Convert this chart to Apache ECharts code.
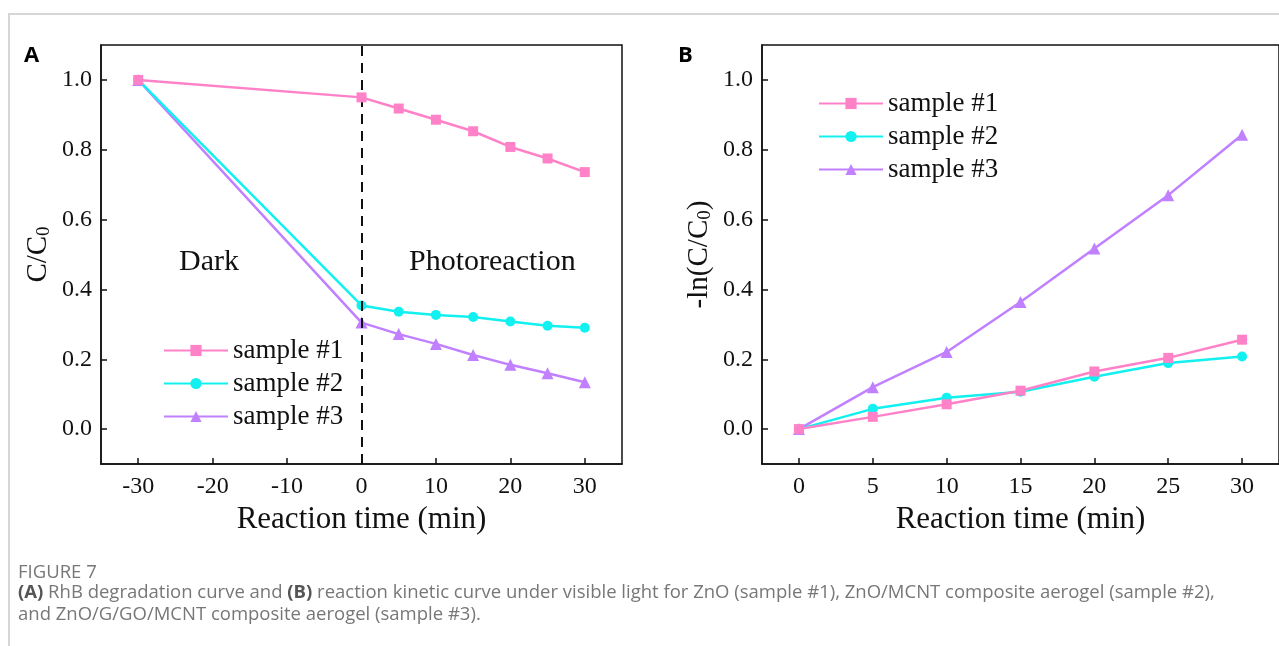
<!DOCTYPE html>
<html>
<head>
<meta charset="utf-8">
<script src="https://cdn.jsdelivr.net/npm/echarts@6/dist/echarts.min.js"></script>
<style>
  html, body { margin: 0; padding: 0; background: #fff; }
  .frame { position: absolute; left: 8px; top: 13px; width: 1271px; height: 633px;
    border-left: 2px solid #d6d6d6; border-top: 2px solid #d6d6d6; box-sizing: border-box; }
  #chart { position: absolute; left: 0; top: 0; width: 1279px; height: 646px; }
  .cap { position: absolute; left: 18px; font-family: "Open Sans", "Noto Sans", sans-serif;
    font-size: 18.5px; color: #777; }
  .cap b { color: #555; }
</style>
</head>
<body>
<div class="frame"></div>
<div id="chart"></div>
<div class="cap" style="top:558px;">FIGURE 7</div>
<div class="cap" style="top:580px; line-height:22px; width:1250px;"><b>(A)</b> RhB degradation curve and <b>(B)</b> reaction kinetic curve under visible light for ZnO (sample #1), ZnO/MCNT composite aerogel (sample #2),<br>and ZnO/G/GO/MCNT composite aerogel (sample #3).</div>
<script>
// panel A: C/C0 vs reaction time (dark from -30 to 0, light after)
const timeA = [-30, 0, 5, 10, 15, 20, 25, 30]
const s1A = [1.0, 0.950, 0.918, 0.886, 0.853, 0.808, 0.775, 0.736]
const s2A = [1.0, 0.354, 0.336, 0.327, 0.321, 0.308, 0.296, 0.290]
const s3A = [1.0, 0.305, 0.272, 0.244, 0.212, 0.184, 0.160, 0.134]

// panel B: -ln(C/C0) vs reaction time
const timeB = [0, 5, 10, 15, 20, 25, 30]
const s1B = [0, 0.035, 0.071, 0.110, 0.165, 0.204, 0.256]
const s2B = [0, 0.058, 0.090, 0.107, 0.150, 0.189, 0.208]
const s3B = [0, 0.120, 0.221, 0.364, 0.517, 0.670, 0.843]

// tick positions
const ticksY = [0, 0.2, 0.4, 0.6, 0.8, 1.0]
const ticksXA = [-30, -20, -10, 0, 10, 20, 30]
const ticksXB = [0, 5, 10, 15, 20, 25, 30]

const names = ['sample #1', 'sample #2', 'sample #3']
const colors = ['#ff82c8', '#12f0f0', '#c080ff']
const symbols = ['rect', 'circle', 'triangle']

const serif = 'Liberation Serif'
const zip = (xs, ys) => xs.map((x, i) => [x, ys[i]])
const tickRich = { t: { fontFamily: serif, fontSize: 24, color: '#111' } }

function lineSeries(idx, x, y, axis) {
  return {
    name: names[idx],
    type: 'line',
    xAxisIndex: axis,
    yAxisIndex: axis,
    data: zip(x, y),
    symbol: symbols[idx],
    symbolSize: idx === 2 ? 12 : 10,
    lineStyle: { color: colors[idx], width: 2.5 },
    itemStyle: { color: colors[idx] },
    z: 5 - idx,
  }
}

const axisLineStyle = { color: '#111', width: 1.5 }

function yAxis(gridIndex, name) {
  return {
    type: 'value', gridIndex, min: -0.1, max: 1.1,
    splitLine: { show: false },
    axisLine: { show: true, onZero: false, lineStyle: axisLineStyle },
    axisTick: { show: true, inside: true, length: 6, customValues: ticksY, lineStyle: axisLineStyle },
    axisLabel: {
      fontFamily: serif, fontSize: 24, color: '#111', margin: 9,
      customValues: ticksY,
      formatter: (v) => '{t|' + v.toFixed(1) + '}',
      rich: tickRich,
    },
    name,
    nameLocation: 'middle',
    nameGap: 47,
    nameRotate: 90,
    nameTextStyle: {
      fontFamily: serif, fontSize: 29, color: '#111',
      rich: { sub: { fontFamily: serif, fontSize: 19, color: '#111', verticalAlign: 'bottom', padding: [12, 0, 0, 0] } },
    },
  }
}

function xAxis(gridIndex, min, max, ticks) {
  return {
    type: 'value', gridIndex, min, max,
    splitLine: { show: false },
    axisLine: { show: true, onZero: false, lineStyle: axisLineStyle },
    axisTick: { show: true, inside: true, length: 6, customValues: ticks, lineStyle: axisLineStyle },
    axisLabel: {
      fontFamily: serif, fontSize: 24, color: '#111', margin: 11,
      customValues: ticks,
      formatter: (v) => '{t|' + v + '}',
      rich: tickRich,
    },
    name: 'Reaction time (min)',
    nameLocation: 'middle',
    nameGap: 36,
    nameTextStyle: { fontFamily: serif, fontSize: 31, color: '#111' },
  }
}

function legend(left, top) {
  return {
    data: names, left, top, orient: 'vertical', itemGap: 6,
    itemWidth: 64, itemHeight: 14,
    textStyle: { fontFamily: serif, fontSize: 27, color: '#111' },
  }
}

const chart = echarts.init(document.getElementById('chart'))
const option = {
  animation: false,
  textStyle: { fontFamily: serif },
  grid: [
    { left: 101, top: 45, width: 521, height: 419, show: true, borderColor: '#111', borderWidth: 1.5 },
    { left: 762, top: 45, width: 520, height: 419, show: true, borderColor: '#111', borderWidth: 1.5 },
  ],
  xAxis: [xAxis(0, -35, 35, ticksXA), xAxis(1, -2.5, 32.5, ticksXB)],
  yAxis: [yAxis(0, 'C/C{sub|0}'), yAxis(1, '-ln(C/C{sub|0})')],
  legend: [legend(158, 332), legend(813, 85)],
  graphic: [
    { type: 'text', left: 24, top: 45, style: { text: 'A', font: 'bold 22px "Open Sans", sans-serif', fill: '#000' } },
    { type: 'text', left: 678, top: 45, style: { text: 'B', font: 'bold 22px "Open Sans", sans-serif', fill: '#000' } },
    { type: 'text', left: 179, top: 247, style: { text: 'Dark', font: '30px "Liberation Serif"', fill: '#111' } },
    { type: 'text', left: 409, top: 247, style: { text: 'Photoreaction', font: '30px "Liberation Serif"', fill: '#111' } },
  ],
  series: [
    Object.assign(lineSeries(0, timeA, s1A, 0), {
      markLine: {
        silent: true, symbol: 'none', label: { show: false },
        lineStyle: { color: '#111', type: [10, 7], width: 2 },
        data: [{ xAxis: 0 }],
      },
    }),
    lineSeries(1, timeA, s2A, 0),
    lineSeries(2, timeA, s3A, 0),
    lineSeries(0, timeB, s1B, 1),
    lineSeries(1, timeB, s2B, 1),
    lineSeries(2, timeB, s3B, 1),
  ],
}
chart.setOption(option)
</script>
</body>
</html>
